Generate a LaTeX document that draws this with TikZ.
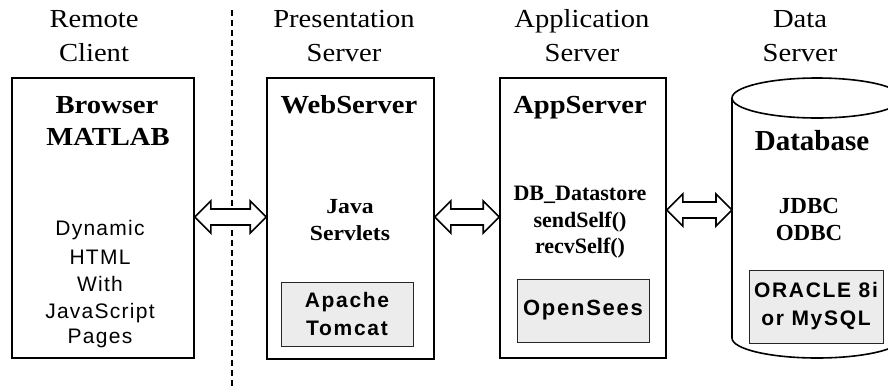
\documentclass[tikz,border=0pt]{standalone}
\usepackage{fontspec}
\usetikzlibrary{calc}
\newfontfamily\hdrfont[FakeStretch=1.1]{Liberation Serif}
\newfontfamily\serfont{Liberation Serif}
\newfontfamily\lsans[LetterSpace=6]{Liberation Sans}
\newfontfamily\bsans[LetterSpace=8]{Liberation Sans}
\definecolor{boxgray}{HTML}{ECECEC}
\tikzset{
  tier/.style={draw=black, line width=1.6pt, minimum width=#1, inner sep=0pt},
  graybox/.style={draw=black!85, line width=1pt, fill=boxgray, inner sep=0pt, align=center,
    font=\bsans\bfseries\fontsize{21}{28}\selectfont},
  hdr/.style={anchor=base, inner sep=0pt, font=\hdrfont\fontsize{26}{34}\selectfont},
  ttl/.style={anchor=base, inner sep=0pt, font=\hdrfont\bfseries\fontsize{26}{32}\selectfont},
  sub/.style={anchor=base, inner sep=0pt, font=\hdrfont\bfseries\fontsize{21.5}{27}\selectfont},
  subp/.style={anchor=base, inner sep=0pt, font=\serfont\bfseries\fontsize{22}{27}\selectfont},
  dyn/.style={anchor=base, inner sep=0pt, font=\lsans\fontsize{21}{27}\selectfont},
  hollow/.style={draw=black, line width=1.6pt, fill=white, line join=miter}
}
\newcommand\hollowarrow[2]{%
  \draw[hollow] let \p1=(#1), \p2=(#2) in
    (\x1,\y1) -- (\x1+16pt,\y1+16pt) -- (\x1+16pt,\y1+8pt) -- (\x2-16pt,\y1+8pt)
    -- (\x2-16pt,\y1+16pt) -- (\x2,\y1) -- (\x2-16pt,\y1-16pt) -- (\x2-16pt,\y1-8pt)
    -- (\x1+16pt,\y1-8pt) -- (\x1+16pt,\y1-16pt) -- cycle;}
\begin{document}
\begin{tikzpicture}[x=1pt,y=-1pt]
\useasboundingbox (0,0) rectangle (888,389);

% headers
\node[hdr] (h1a) at (94,27) {Remote};
\node[hdr] (h1b) at (94,61) {Client};
\node[hdr] (h2a) at (344,27) {Presentation};
\node[hdr] (h2b) at (344,61) {Server};
\node[hdr] (h3a) at (582,27) {Application};
\node[hdr] (h3b) at (582,61) {Server};
\node[hdr] (h4a) at (800,27) {Data};
\node[hdr] (h4b) at (800,61) {Server};

% dashed separator
\coordinate (d1) at (232,10);
\coordinate (d2) at (232,389);
\draw[line width=1.5pt, dash pattern=on 6pt off 4pt] (d1) -- (d2);

% tier boxes
\node[tier=182pt, minimum height=280pt] (b1) at (103,218) {};
\node[tier=167pt, minimum height=281pt] (b2) at (350.5,218.5) {};
\node[tier=166pt, minimum height=280pt] (b3) at (583,218) {};

% database cylinder
\coordinate (dbw) at (732,210);
\draw[line width=1.6pt, fill=white] (732,98) -- (732,338) arc[start angle=180, end angle=360, x radius=85, y radius=-20] -- (902,98);
\draw[line width=1.6pt] (817,98) ellipse[x radius=85, y radius=20];

% box 1 texts
\node[ttl] (t1a) at (107,113) {Browser};
\node[ttl] (t1b) at (108,145) {MATLAB};
\node[dyn] (l1) at (100,235) {Dynamic};
\node[dyn] (l2) at (100,264) {HTML};
\node[dyn] (l3) at (100,291) {With};
\node[dyn] (l4) at (100,318) {JavaScript};
\node[dyn] (l5) at (100,343) {Pages};

% box 2 texts
\node[ttl] (t2) at (349,113) {WebServer};
\node[sub] (s2a) at (350,213) {Java};
\node[sub] (s2b) at (350,240) {Servlets};
\node[graybox, minimum width=132pt, minimum height=64pt] (g2) at (347,314) {Apache\\Tomcat};

% box 3 texts
\node[ttl] (t3) at (580,113) {AppServer};
\node[subp] (s3a) at (580,200) {DB\_Datastore};
\node[subp] (s3b) at (580,227) {sendSelf()};
\node[subp] (s3c) at (580,253) {recvSelf()};
\node[graybox, minimum width=132pt, minimum height=63pt, font=\bsans\bfseries\fontsize{22}{28}\selectfont] (g3) at (583,310.5) {OpenSees};

% database texts
\node[anchor=base, inner sep=0pt, font=\serfont\bfseries\fontsize{29}{34}\selectfont] (t4) at (812,150) {Database};
\node[subp, font=\serfont\bfseries\fontsize{23}{27}\selectfont] (s4a) at (809,213) {JDBC};
\node[subp, font=\serfont\bfseries\fontsize{23}{27}\selectfont] (s4b) at (809,240) {ODBC};
\node[graybox, minimum width=134pt, minimum height=73pt] (g4) at (816,306.5) {ORACLE 8i\\or MySQL};

% arrows
\coordinate (ya) at (0,217);
\coordinate (yb) at (0,210);
\hollowarrow{b1.east |- ya}{b2.west |- ya}
\hollowarrow{b2.east |- ya}{b3.west |- ya}
\hollowarrow{b3.east |- yb}{dbw}
\end{tikzpicture}
\end{document}
